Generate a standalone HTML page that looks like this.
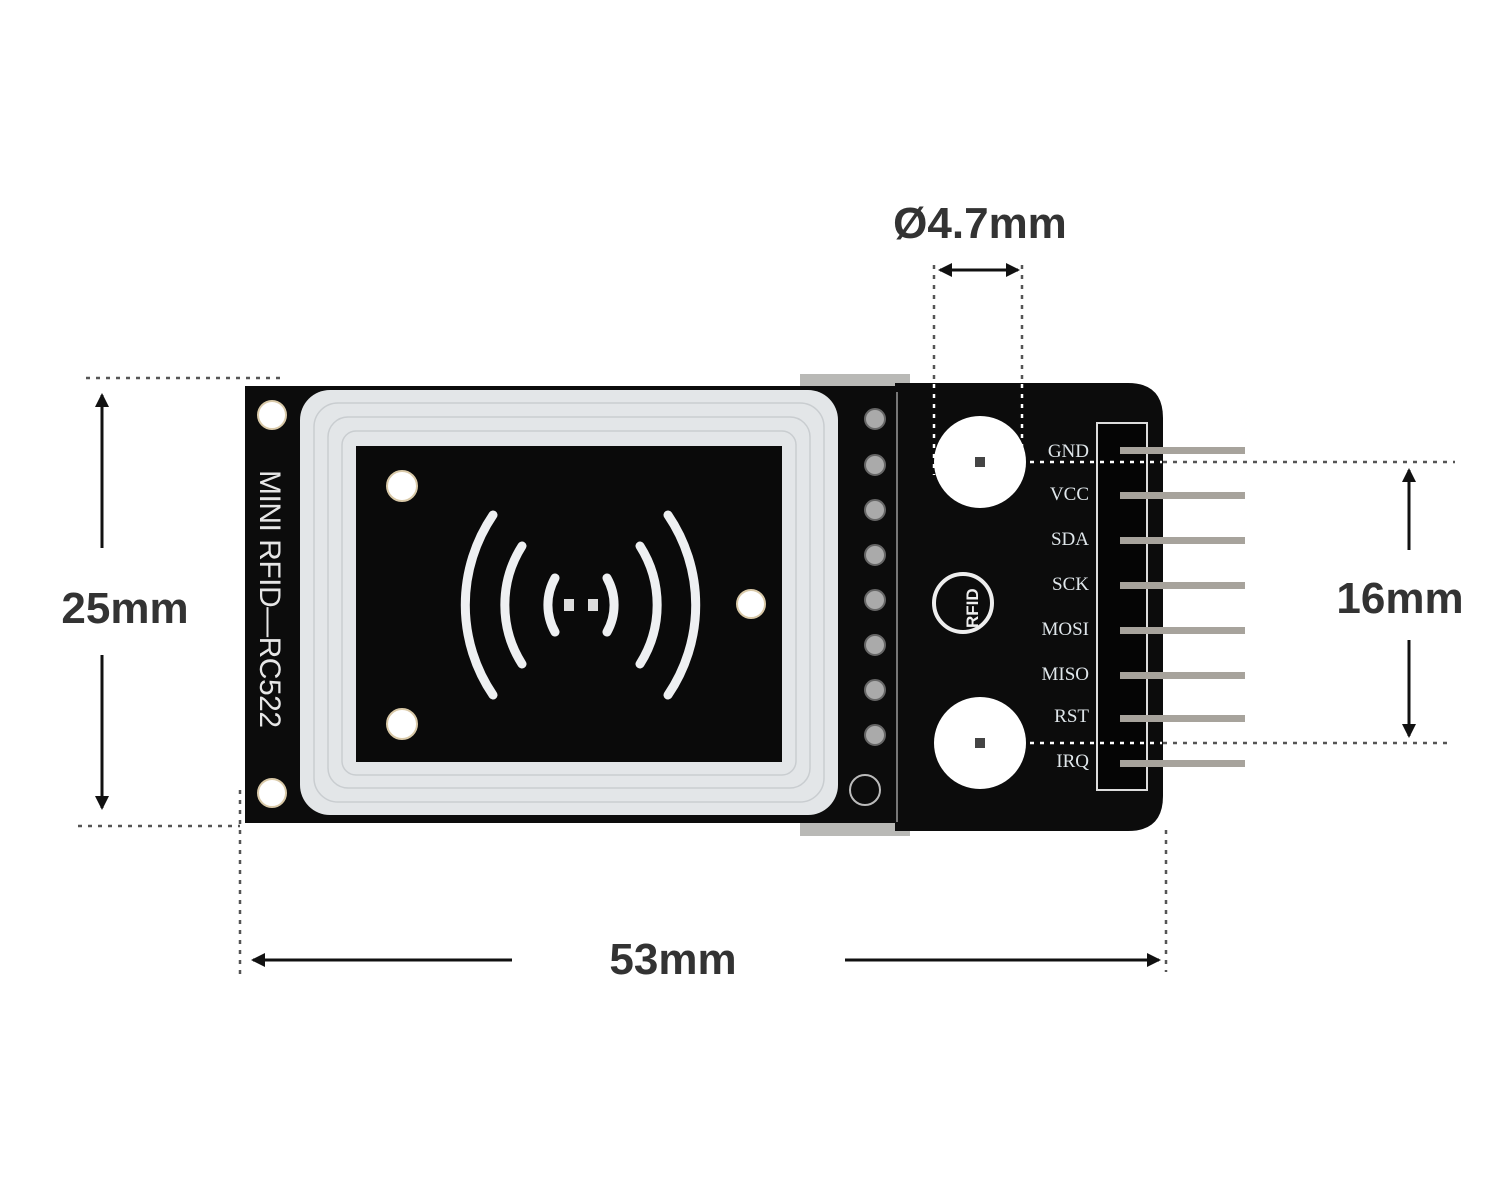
<!DOCTYPE html>
<html><head><meta charset="utf-8"><style>
html,body{margin:0;padding:0;background:#fff;width:1500px;height:1200px;overflow:hidden}
svg{display:block}
.dim{font-family:"Liberation Sans",sans-serif;font-weight:bold;fill:#333;font-size:44px}
.lbl{font-family:"Liberation Serif",serif;fill:#dfe6ea;font-size:19px;text-anchor:end}
</style></head><body>
<svg width="1500" height="1200" viewBox="0 0 1500 1200" xmlns="http://www.w3.org/2000/svg">
<defs>
<marker id="ah" markerWidth="14" markerHeight="14" refX="12" refY="7" orient="auto" markerUnits="userSpaceOnUse" viewBox="0 0 14 14">
<path d="M0,0 L14,7 L0,14 z" fill="#111"/></marker>
</defs>
<rect x="800" y="374" width="110" height="462" fill="#b9b9b6"/>
<rect x="245" y="386" width="660" height="437" fill="#0c0c0c"/>
<path d="M895,383 H1128 Q1163,383 1163,418 V796 Q1163,831 1128,831 H895 Z" fill="#0c0c0c"/>
<line x1="897" y1="392" x2="897" y2="822" stroke="#777" stroke-width="2"/>
<rect x="300" y="390" width="538" height="425" rx="30" fill="#e3e6e8"/>
<rect x="314" y="403" width="510" height="399" rx="24" fill="none" stroke="#c9cdd0" stroke-width="1.5"/>
<rect x="328" y="417" width="482" height="371" rx="20" fill="none" stroke="#c9cdd0" stroke-width="1.5"/>
<rect x="342" y="431" width="454" height="344" rx="14" fill="none" stroke="#c9cdd0" stroke-width="1.5"/>
<rect x="356" y="446" width="426" height="316" fill="#0a0a0a"/>
<g fill="#fff" stroke="#d9c9a8" stroke-width="2">
<circle cx="272" cy="415" r="14"/><circle cx="272" cy="793" r="14"/>
<circle cx="402" cy="486" r="15"/><circle cx="402" cy="724" r="15"/>
<circle cx="751" cy="604" r="14"/>
</g>
<text x="0" y="0" transform="translate(260,470) rotate(90)" font-family="Liberation Sans,sans-serif" font-size="30" fill="#e6e6e6" textLength="258">MINI RFID—RC522</text>
<g fill="none" stroke="#eef0f2" stroke-width="9" stroke-linecap="round">
<path d="M493,515 A160,160 0 0 0 493,695"/>
<path d="M522,546 A110,110 0 0 0 522,664"/>
<path d="M555,578 A55,55 0 0 0 555,632"/>
<path d="M668,515 A160,160 0 0 1 668,695"/>
<path d="M640,546 A110,110 0 0 1 640,664"/>
<path d="M607,578 A55,55 0 0 1 607,632"/>
</g>
<rect x="564" y="599" width="10" height="12" fill="#ddd"/>
<rect x="588" y="599" width="10" height="12" fill="#ddd"/>
<g fill="#aaa" stroke="#666" stroke-width="2">
<circle cx="875" cy="419" r="10"/><circle cx="875" cy="465" r="10"/><circle cx="875" cy="510" r="10"/><circle cx="875" cy="555" r="10"/>
<circle cx="875" cy="600" r="10"/><circle cx="875" cy="645" r="10"/><circle cx="875" cy="690" r="10"/><circle cx="875" cy="735" r="10"/>
</g>
<circle cx="865" cy="790" r="15" fill="none" stroke="#bbb" stroke-width="2"/>
<circle cx="980" cy="462" r="46" fill="#fff"/>
<circle cx="980" cy="743" r="46" fill="#fff"/>
<rect x="975" y="457" width="10" height="10" fill="#444"/>
<rect x="975" y="738" width="10" height="10" fill="#444"/>
<circle cx="963" cy="603" r="29" fill="none" stroke="#eee" stroke-width="4"/>
<text x="0" y="0" transform="translate(978,628) rotate(-90)" font-family="Liberation Sans,sans-serif" font-weight="bold" font-size="17" fill="#eee">RFID</text>
<rect x="1097" y="423" width="50" height="367" fill="#050505" stroke="#ddd" stroke-width="2"/>
<g fill="#a7a39c">
<rect x="1120" y="447" width="125" height="7"/><rect x="1120" y="492" width="125" height="7"/>
<rect x="1120" y="537" width="125" height="7"/><rect x="1120" y="582" width="125" height="7"/>
<rect x="1120" y="627" width="125" height="7"/><rect x="1120" y="672" width="125" height="7"/>
<rect x="1120" y="715" width="125" height="7"/><rect x="1120" y="760" width="125" height="7"/>
</g>
<g class="lbl">
<text x="1089" y="457">GND</text><text x="1089" y="500">VCC</text><text x="1089" y="545">SDA</text>
<text x="1089" y="590">SCK</text><text x="1089" y="635">MOSI</text><text x="1089" y="680">MISO</text>
<text x="1089" y="722">RST</text><text x="1089" y="767">IRQ</text>
</g>
<g stroke="#555" stroke-width="2.5" stroke-dasharray="4,6" fill="none">
<line x1="86" y1="378" x2="282" y2="378"/>
<line x1="78" y1="826" x2="240" y2="826"/>
<line x1="240" y1="790" x2="240" y2="978"/>
<line x1="1166" y1="830" x2="1166" y2="972"/>
<line x1="934" y1="265" x2="934" y2="380"/>
<line x1="1022" y1="265" x2="1022" y2="380"/>
<line x1="1163" y1="462" x2="1455" y2="462"/>
<line x1="1163" y1="743" x2="1450" y2="743"/>
</g>
<g stroke="#fff" stroke-width="2.5" stroke-dasharray="4,6" fill="none">
<line x1="934" y1="384" x2="934" y2="475"/>
<line x1="1022" y1="384" x2="1022" y2="462"/>
<line x1="990" y1="462" x2="1162" y2="462"/>
<line x1="990" y1="743" x2="1162" y2="743"/>
</g>
<g stroke="#111" stroke-width="3">
<line x1="102" y1="548" x2="102" y2="395" marker-end="url(#ah)"/>
<line x1="102" y1="655" x2="102" y2="808" marker-end="url(#ah)"/>
<line x1="512" y1="960" x2="253" y2="960" marker-end="url(#ah)"/>
<line x1="845" y1="960" x2="1159" y2="960" marker-end="url(#ah)"/>
<line x1="978" y1="270" x2="940" y2="270" marker-end="url(#ah)"/>
<line x1="978" y1="270" x2="1018" y2="270" marker-end="url(#ah)"/>
<line x1="1409" y1="550" x2="1409" y2="470" marker-end="url(#ah)"/>
<line x1="1409" y1="640" x2="1409" y2="736" marker-end="url(#ah)"/>
</g>
<text class="dim" x="125" y="623" text-anchor="middle">25mm</text>
<text class="dim" x="673" y="974" text-anchor="middle">53mm</text>
<text class="dim" x="980" y="238" text-anchor="middle">Ø4.7mm</text>
<text class="dim" x="1400" y="613" text-anchor="middle">16mm</text>
</svg>
</body></html>
